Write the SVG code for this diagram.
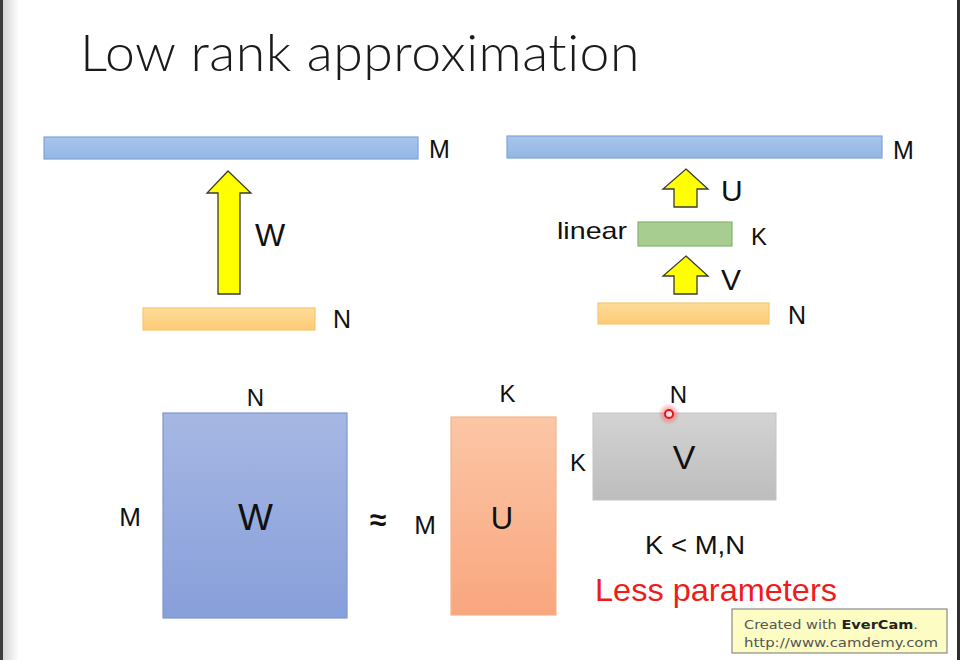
<svg xmlns="http://www.w3.org/2000/svg" width="960" height="660" viewBox="0 0 960 660">
  <style>
    .lbl { font-family: "Liberation Sans", Arial, sans-serif; fill: #111; }
    .arrow { fill: #ffff00; stroke: #3a3a3a; stroke-width: 1.3; }
    .blue { fill: url(#gBlue); stroke: #7ea6d9; stroke-width: 1.2; }
    .orange { fill: url(#gOrange); stroke: #f5c770; stroke-width: 1.2; }
    .ever { font-family: "DejaVu Sans", Verdana, sans-serif; font-size: 13px; fill: #555; }
    .title { font-variant-ligatures: none; font-feature-settings: "liga" 0; letter-spacing: 0.5px; }
  </style>
  <defs>
    <linearGradient id="gBlue" x1="0" y1="0" x2="0" y2="1">
      <stop offset="0" stop-color="#a8c6ec"/>
      <stop offset="1" stop-color="#93b6e4"/>
    </linearGradient>
    <linearGradient id="gOrange" x1="0" y1="0" x2="0" y2="1">
      <stop offset="0" stop-color="#ffdc9a"/>
      <stop offset="1" stop-color="#fdcb76"/>
    </linearGradient>
    <linearGradient id="gW" x1="0" y1="0" x2="0" y2="1">
      <stop offset="0" stop-color="#a6b7e3"/>
      <stop offset="1" stop-color="#879fda"/>
    </linearGradient>
    <linearGradient id="gU" x1="0" y1="0" x2="0" y2="1">
      <stop offset="0" stop-color="#fcc6a6"/>
      <stop offset="1" stop-color="#f9a67e"/>
    </linearGradient>
    <linearGradient id="gV" x1="0" y1="0" x2="0" y2="1">
      <stop offset="0" stop-color="#d3d3d3"/>
      <stop offset="1" stop-color="#bdbdbd"/>
    </linearGradient>
    <linearGradient id="gEdge" x1="0" y1="0" x2="1" y2="0">
      <stop offset="0" stop-color="#d4d4d4"/>
      <stop offset="1" stop-color="#ffffff"/>
    </linearGradient>
    <radialGradient id="gGlow">
      <stop offset="0" stop-color="#ff3030" stop-opacity="0.7"/>
      <stop offset="1" stop-color="#ff3030" stop-opacity="0"/>
    </radialGradient>
  </defs>

  <rect x="0" y="0" width="960" height="660" fill="#ffffff"/>
  <rect x="3" y="0" width="16" height="660" fill="url(#gEdge)"/>
  <rect x="0" y="0" width="3" height="660" fill="#3c3c3c"/>
  <rect x="957" y="0" width="3" height="660" fill="#2e2e2e"/>

  <g id="title">
    <text class="title" x="80" y="71" font-size="52" font-family="Lato, 'Open Sans', 'Liberation Sans', sans-serif" font-weight="300" fill="#1a1a1a" textLength="560" lengthAdjust="spacingAndGlyphs">Low rank approximation</text>
  </g>

  <!-- top left network -->
  <g id="left-output">
    <rect class="blue" x="44" y="137" width="374" height="22"/>
    <text x="429" y="158" class="lbl" font-size="25">M</text>
  </g>
  <g id="left-input">
    <rect class="orange" x="143" y="308" width="172" height="22"/>
    <text x="333" y="328" class="lbl" font-size="25">N</text>
  </g>

  <!-- top right network -->
  <g id="right-output">
    <rect class="blue" x="507" y="136" width="375" height="22"/>
    <text x="893" y="159" class="lbl" font-size="25">M</text>
  </g>
  <g id="right-hidden">
    <rect x="638" y="222" width="94" height="24" fill="#a7cd90" stroke="#87b36f" stroke-width="1.2"/>
    <text x="557" y="239" class="lbl" font-size="24" textLength="70" lengthAdjust="spacingAndGlyphs">linear</text>
    <text x="751" y="245" class="lbl" font-size="24">K</text>
  </g>
  <g id="right-input">
    <rect class="orange" x="598" y="303" width="171" height="21"/>
    <text x="788" y="324" class="lbl" font-size="25">N</text>
  </g>

  <g id="connectors">
    <g id="arrow-W">
      <polygon class="arrow" points="228,171 251,193 240,193 240,294 218,294 218,193 207,193"/>
      <text x="255" y="246" class="lbl" font-size="32">W</text>
    </g>
    <g id="arrow-U">
      <polygon class="arrow" points="686,169 708,189 697,189 697,207 674,207 674,189 663,189"/>
      <text x="721" y="201" class="lbl" font-size="30">U</text>
    </g>
    <g id="arrow-V">
      <polygon class="arrow" points="686,256 708,276 697,276 697,294 674,294 674,276 663,276"/>
      <text x="721" y="290" class="lbl" font-size="30">V</text>
    </g>
  </g>

  <!-- bottom matrices -->
  <g id="matrix-W">
    <rect x="163" y="413" width="184" height="205" fill="url(#gW)" stroke="#7f95cf" stroke-width="1.2"/>
    <text x="255.5" y="406" class="lbl" font-size="24" text-anchor="middle">N</text>
    <text x="130" y="526" class="lbl" font-size="26" text-anchor="middle">M</text>
    <text x="255.5" y="530" class="lbl" font-size="37" text-anchor="middle">W</text>
  </g>

  <g id="approx">
    <text x="378" y="530" class="lbl" font-size="30" font-weight="bold" text-anchor="middle">≈</text>
  </g>

  <g id="matrix-U">
    <rect x="451" y="417" width="105" height="198" fill="url(#gU)" stroke="#f4b48c" stroke-width="1.2"/>
    <text x="507.5" y="402" class="lbl" font-size="24" text-anchor="middle">K</text>
    <text x="425" y="534" class="lbl" font-size="26" text-anchor="middle">M</text>
    <text x="502" y="529" class="lbl" font-size="31" text-anchor="middle">U</text>
  </g>

  <g id="matrix-V">
    <rect x="593" y="413" width="183" height="87" fill="url(#gV)" stroke="#c4c4c4" stroke-width="1"/>
    <text x="678.5" y="403" class="lbl" font-size="24" text-anchor="middle">N</text>
    <text x="578" y="471" class="lbl" font-size="24" text-anchor="middle">K</text>
    <text x="684" y="469" class="lbl" font-size="34" text-anchor="middle">V</text>
  </g>

  <g id="pointer">
    <circle cx="669" cy="414" r="11" fill="url(#gGlow)"/>
    <circle cx="669" cy="414" r="4" fill="#ffe0e0" stroke="#e8141c" stroke-width="2"/>
  </g>

  <g id="condition">
    <text x="645" y="554" class="lbl" font-size="25" textLength="100" lengthAdjust="spacingAndGlyphs">K &lt; M,N</text>
  </g>

  <g id="note">
    <text x="595" y="601" class="lbl" font-size="32" style="fill:#f01c1c" textLength="242" lengthAdjust="spacingAndGlyphs">Less parameters</text>
  </g>

  <g id="watermark">
    <rect x="732" y="609" width="215" height="44" fill="#fcfcc3" stroke="#8a8a8a" stroke-width="1.2"/>
    <text x="744" y="629" class="ever" textLength="174" lengthAdjust="spacingAndGlyphs">Created with <tspan font-weight="bold" fill="#222">EverCam</tspan>.</text>
    <text x="744" y="647" class="ever" textLength="194" lengthAdjust="spacingAndGlyphs">http://www.camdemy.com</text>
  </g>
</svg>
